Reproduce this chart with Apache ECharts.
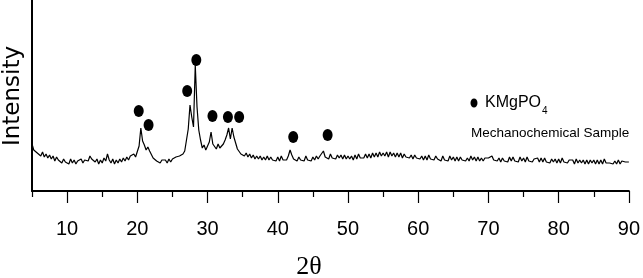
<!DOCTYPE html>
<html>
<head>
<meta charset="utf-8">
<script src="https://cdn.jsdelivr.net/npm/echarts@6.0.0/dist/echarts.min.js"></script>
<style>
html,body{margin:0;padding:0;background:#fff;}
#chart{width:643px;height:278px;}
</style>
</head>
<body>
<div id="chart"></div>
<script>
// XRD trace: [2theta, intensity (arbitrary units)]
const trace = [
[5.00,47],[5.25,41],[5.50,43],[5.75,38],
[6.00,40],[6.25,35],[6.50,39],[6.75,34],
[7.00,37],[7.25,33],[7.50,36],[7.75,32],
[8.00,35],[8.25,30],[8.50,34],[8.75,31],
[9.00,33],[9.25,28],[9.50,32],[9.75,29],
[10.00,31],[10.25,27],[10.50,32],[10.75,28],
[11.00,31],[11.25,27],[11.50,30],[11.75,28],
[12.00,32],[12.25,28],[12.50,31],[12.75,29],
[13.00,30],[13.25,35],[13.50,32],[13.75,34],
[14.00,29],[14.25,32],[14.50,27],[14.75,31],
[15.00,28],[15.25,33],[15.50,30],[15.75,37],
[16.00,31],[16.25,28],[16.50,32],[16.75,27],
[17.00,31],[17.25,28],[17.50,32],[17.75,29],
[18.00,33],[18.25,30],[18.50,34],[18.75,31],
[19.00,35],[19.25,33],[19.50,37],[19.75,34],
[20.00,33],[20.25,45],[20.50,63],[20.75,50],
[21.00,46],[21.25,41],[21.50,44],[21.75,40],
[22.00,38],[22.25,33],[22.50,35],[22.75,30],
[23.00,32],[23.25,28],[23.50,31],[23.75,29],
[24.00,31],[24.25,28],[24.50,32],[24.75,29],
[25.00,32],[25.25,30],[25.50,34],[25.75,32],
[26.00,35],[26.25,33],[26.50,37],[26.75,40],
[27.00,51],[27.25,62],[27.50,86],[27.75,74],
[28.00,64],[28.25,126],[28.50,84],[28.75,61],
[29.00,51],[29.25,43],[29.50,46],[29.75,41],
[30.00,45],[30.25,49],[30.50,59],[30.75,47],
[31.00,46],[31.25,42],[31.50,47],[31.75,43],
[32.00,44],[32.25,47],[32.50,51],[32.75,56],
[33.00,63],[33.25,52],[33.50,63],[33.75,54],
[34.00,48],[34.25,42],[34.50,43],[34.75,37],
[35.00,39],[35.25,35],[35.50,38],[35.75,34],
[36.00,37],[36.25,33],[36.50,36],[36.75,32],
[37.00,35],[37.25,32],[37.50,35],[37.75,31],
[38.00,34],[38.25,31],[38.50,35],[38.75,31],
[39.00,34],[39.25,31],[39.50,33],[39.75,30],
[40.00,34],[40.25,30],[40.50,35],[40.75,31],
[41.00,33],[41.25,31],[41.50,35],[41.75,41],
[42.00,36],[42.25,32],[42.50,34],[42.75,30],
[43.00,34],[43.25,31],[43.50,33],[43.75,30],
[44.00,35],[44.25,31],[44.50,33],[44.75,30],
[45.00,34],[45.25,31],[45.50,35],[45.75,32],
[46.00,35],[46.25,33],[46.50,40],[46.75,34],
[47.00,36],[47.25,32],[47.50,37],[47.75,33],
[48.00,35],[48.25,32],[48.50,36],[48.75,33],
[49.00,36],[49.25,32],[49.50,36],[49.75,32],
[50.00,35],[50.25,32],[50.50,35],[50.75,31],
[51.00,36],[51.25,32],[51.50,37],[51.75,33],
[52.00,35],[52.25,33],[52.50,37],[52.75,33],
[53.00,37],[53.25,33],[53.50,38],[53.75,34],
[54.00,38],[54.25,34],[54.50,39],[54.75,35],
[55.00,38],[55.25,35],[55.50,39],[55.75,34],
[56.00,39],[56.25,35],[56.50,38],[56.75,34],
[57.00,38],[57.25,34],[57.50,38],[57.75,33],
[58.00,37],[58.25,34],[58.50,36],[58.75,33],
[59.00,36],[59.25,32],[59.50,36],[59.75,33],
[60.00,35],[60.25,32],[60.50,35],[60.75,31],
[61.00,35],[61.25,31],[61.50,36],[61.75,32],
[62.00,34],[62.25,31],[62.50,35],[62.75,32],
[63.00,34],[63.25,30],[63.50,35],[63.75,31],
[64.00,33],[64.25,30],[64.50,35],[64.75,31],
[65.00,34],[65.25,30],[65.50,34],[65.75,30],
[66.00,34],[66.25,31],[66.50,33],[66.75,30],
[67.00,33],[67.25,30],[67.50,35],[67.75,31],
[68.00,34],[68.25,30],[68.50,34],[68.75,30],
[69.00,33],[69.25,30],[69.50,33],[69.75,31],
[70.00,33],[70.25,31],[70.50,35],[70.75,31],
[71.00,33],[71.25,30],[71.50,33],[71.75,29],
[72.00,33],[72.25,30],[72.50,32],[72.75,29],
[73.00,34],[73.25,30],[73.50,34],[73.75,30],
[74.00,32],[74.25,29],[74.50,34],[74.75,30],
[75.00,33],[75.25,29],[75.50,34],[75.75,30],
[76.00,32],[76.25,29],[76.50,32],[76.75,30],
[77.00,33],[77.25,29],[77.50,33],[77.75,29],
[78.00,33],[78.25,29],[78.50,31],[78.75,28],
[79.00,32],[79.25,29],[79.50,32],[79.75,28],
[80.00,32],[80.25,28],[80.50,33],[80.75,29],
[81.00,31],[81.25,28],[81.50,31],[81.75,29],
[82.00,31],[82.25,27],[82.50,32],[82.75,28],
[83.00,31],[83.25,28],[83.50,31],[83.75,27],
[84.00,31],[84.25,27],[84.50,31],[84.75,28],
[85.00,31],[85.25,27],[85.50,31],[85.75,27],
[86.00,31],[86.25,27],[86.50,32],[86.75,28],
[87.00,30],[87.25,28],[87.50,30],[87.75,27],
[88.00,30],[88.25,27],[88.50,31],[88.75,27],
[89.00,30],[89.25,28],[89.50,29],[89.75,27],
[90.00,29]
];

// KMgPO4 peak markers: [2theta, marker height]
const peakMarkers = [
[20.2,80],[21.6,66],[27.1,100],[28.4,131],[30.7,75],[32.9,74],[34.5,74],[42.2,54],[47.1,56]
];

const xTickLabels = [10,20,30,40,50,60,70,80,90];
const xMinorTicks = [5,15,25,35,45,55,65,75,85];

const chart = echarts.init(document.getElementById('chart'), null, {renderer:'canvas'});
const sans = '"Liberation Sans", Arial, sans-serif';

chart.setOption({
  animation:false,
  backgroundColor:'#fff',
  grid:{left:32, right:8, top:0, bottom:87, containLabel:false},
  xAxis:[{
    type:'value', min:5, max:90, position:'bottom',
    axisLine:{show:true, onZero:false, lineStyle:{color:'#000', width:2}},
    axisTick:{show:true, customValues:xTickLabels, length:12, lineStyle:{color:'#000', width:1.2}},
    axisLabel:{show:true, customValues:xTickLabels, margin:28, fontSize:20, color:'#000', fontFamily:sans},
    splitLine:{show:false}
  },{
    type:'value', min:5, max:90, position:'bottom',
    axisLine:{show:false},
    axisTick:{show:true, customValues:xMinorTicks, length:6, lineStyle:{color:'#000', width:1.2}},
    axisLabel:{show:false},
    splitLine:{show:false}
  }],
  yAxis:{
    type:'value', min:0, max:191,
    axisLine:{show:true, lineStyle:{color:'#000', width:2}},
    axisTick:{show:false}, axisLabel:{show:false}, splitLine:{show:false}
  },
  series:[{
    type:'line', xAxisIndex:0, data:trace, showSymbol:false, symbol:'none',
    lineStyle:{color:'#000', width:1.2}
  },{
    type:'scatter', xAxisIndex:0, data:peakMarkers, symbol:'circle', symbolSize:[10,12],
    itemStyle:{color:'#000', opacity:1}
  }],
  graphic:[
    {type:'text', x:13, y:96, rotation:Math.PI/2,
      style:{text:'Intensity', fontSize:23, fontFamily:'"DejaVu Sans", sans-serif', fill:'#000', align:'center', verticalAlign:'middle'}},
    {type:'text', x:309, y:267,
      style:{text:'2θ', fontSize:26, fontFamily:'"Liberation Serif", serif', fill:'#000', align:'center', verticalAlign:'middle'}},
    {type:'ellipse', shape:{cx:474, cy:103, rx:3.5, ry:4.5}, style:{fill:'#000'}},
    {type:'text', x:485, y:103,
      style:{text:'KMgPO', fontSize:16, fontFamily:sans, fill:'#000', align:'left', verticalAlign:'middle'}},
    {type:'text', x:542, y:111,
      style:{text:'4', fontSize:10, fontFamily:sans, fill:'#000', align:'left', verticalAlign:'middle'}},
    {type:'text', x:471, y:133,
      style:{text:'Mechanochemical Sample', fontSize:13.5, fontFamily:sans, fill:'#000', align:'left', verticalAlign:'middle'}}
  ]
});
</script>
</body>
</html>
